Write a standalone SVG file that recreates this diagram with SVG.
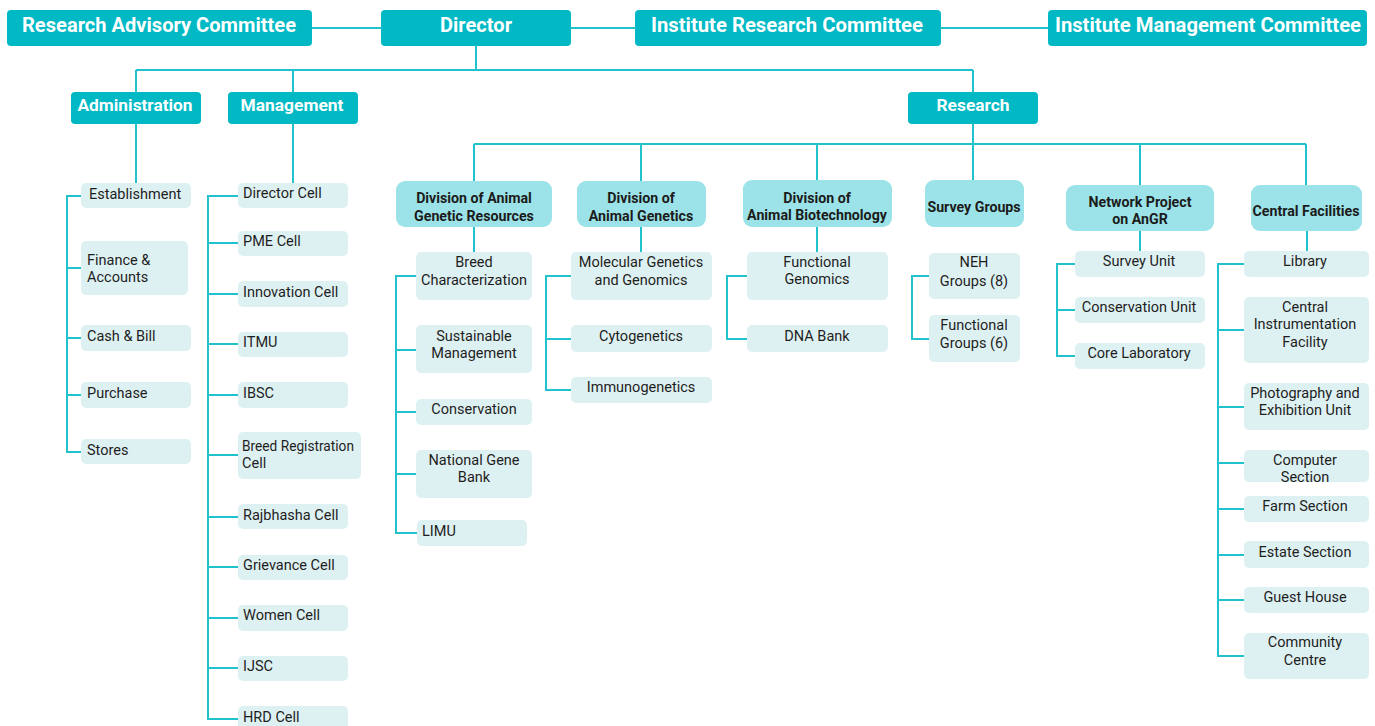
<svg xmlns="http://www.w3.org/2000/svg" width="1375" height="726" viewBox="0 0 1375 726">
<style>
.top{fill:#00b9c5}
.tt{font-family:Roboto,"Liberation Sans",sans-serif;font-weight:bold;fill:#fff;text-anchor:middle}
.div{fill:#9be3e8}
.dt{font-family:Roboto,"Liberation Sans",sans-serif;font-weight:bold;font-size:14.2px;fill:#1b1b1b;text-anchor:middle}
.leaf{fill:#def1f2}
.lt{font-family:Roboto,"Liberation Sans",sans-serif;font-size:14.5px;fill:#1e1e1e}
.c{text-anchor:middle}
.ln{fill:none;stroke:#20c2cd;stroke-width:2}
</style>
<rect width="1375" height="726" fill="#fff"/>
<g id="connectors" class="ln">
<path d="M312 28H381M571 28H635M941 28H1048"/>
<path d="M476 46V70M136 70H973M136 70V92M293 70V92M973 70V92"/>
<path d="M136 124V183M81 196H67V452H81M67 268H81M67 338H81M67 395H81"/>
<path d="M293 124V183M238 196H208V719H238M208 243H238M208 294H238M208 344H238M208 395H238M208 455H238M208 517H238M208 567H238M208 618H238M208 668H238"/>
<path d="M973 124V144M474 144H1306M474 144V181M641 144V181M817 144V180M973 144V180M1140 144V185M1306 144V185"/>
<path d="M474 227V252M416 276H396V533H417M396 350H416M396 412H416M396 474H416"/>
<path d="M641 227V252M571 276H546V390H571M546 339H571"/>
<path d="M817 227V252M747 276H727V339H747"/>
<path d="M929 276H912V339H929"/>
<path d="M1140 231V251M1075 264H1057V356H1075M1057 310H1075"/>
<path d="M1307 231V251M1244 264H1218V656H1244M1218 330H1244M1218 407H1244M1218 463H1244M1218 509H1244M1218 555H1244M1218 600H1244"/>
</g>
<g id="rac"><rect class="top" x="7" y="10" width="305" height="36" rx="4"/><text class="tt" x="159" y="32" font-size="21" textLength="274" lengthAdjust="spacingAndGlyphs">Research Advisory Committee</text></g>
<g id="director"><rect class="top" x="381" y="10" width="190" height="36" rx="4"/><text class="tt" x="476" y="32" font-size="21" textLength="72" lengthAdjust="spacingAndGlyphs">Director</text></g>
<g id="irc"><rect class="top" x="635" y="10" width="306" height="36" rx="4"/><text class="tt" x="787" y="32" font-size="21" textLength="272" lengthAdjust="spacingAndGlyphs">Institute Research Committee</text></g>
<g id="imc"><rect class="top" x="1048" y="10" width="319" height="36" rx="4"/><text class="tt" x="1208" y="32" font-size="21" textLength="306" lengthAdjust="spacingAndGlyphs">Institute Management Committee</text></g>
<g id="administration"><rect class="top" x="71" y="92" width="130" height="32" rx="4"/><text class="tt" x="135" y="111" font-size="17" textLength="115" lengthAdjust="spacingAndGlyphs">Administration</text></g>
<g id="management"><rect class="top" x="228" y="92" width="130" height="32" rx="4"/><text class="tt" x="292" y="111" font-size="17" textLength="103" lengthAdjust="spacingAndGlyphs">Management</text></g>
<g id="research"><rect class="top" x="908" y="92" width="130" height="32" rx="4"/><text class="tt" x="973" y="111" font-size="17" textLength="73" lengthAdjust="spacingAndGlyphs">Research</text></g>
<g id="establishment"><rect class="leaf" x="81" y="183" width="110" height="25" rx="5"/><text class="lt" x="89" y="199">Establishment</text></g>
<g id="finance"><rect class="leaf" x="81" y="241" width="107" height="54" rx="5"/><text class="lt" x="87" y="265">Finance &amp;</text><text class="lt" x="87" y="282">Accounts</text></g>
<g id="cash"><rect class="leaf" x="81" y="325" width="110" height="26" rx="5"/><text class="lt" x="87" y="341">Cash &amp; Bill</text></g>
<g id="purchase"><rect class="leaf" x="81" y="382" width="110" height="26" rx="5"/><text class="lt" x="87" y="398">Purchase</text></g>
<g id="stores"><rect class="leaf" x="81" y="439" width="110" height="25" rx="5"/><text class="lt" x="87" y="455">Stores</text></g>
<g id="directorcell"><rect class="leaf" x="238" y="183" width="110" height="25" rx="5"/><text class="lt" x="243" y="198">Director Cell</text></g>
<g id="pme"><rect class="leaf" x="238" y="231" width="110" height="25" rx="5"/><text class="lt" x="243" y="246">PME Cell</text></g>
<g id="innovation"><rect class="leaf" x="238" y="281" width="110" height="26" rx="5"/><text class="lt" x="243" y="297">Innovation Cell</text></g>
<g id="itmu"><rect class="leaf" x="238" y="332" width="110" height="25" rx="5"/><text class="lt" x="243" y="347">ITMU</text></g>
<g id="ibsc"><rect class="leaf" x="238" y="382" width="110" height="26" rx="5"/><text class="lt" x="243" y="398">IBSC</text></g>
<g id="breedreg"><rect class="leaf" x="238" y="432" width="123" height="47" rx="5"/><text class="lt" x="242" y="451" textLength="112" lengthAdjust="spacingAndGlyphs">Breed Registration</text><text class="lt" x="242" y="468">Cell</text></g>
<g id="rajbhasha"><rect class="leaf" x="238" y="504" width="110" height="25" rx="5"/><text class="lt" x="243" y="520">Rajbhasha Cell</text></g>
<g id="grievance"><rect class="leaf" x="238" y="555" width="110" height="25" rx="5"/><text class="lt" x="243" y="570">Grievance Cell</text></g>
<g id="women"><rect class="leaf" x="238" y="605" width="110" height="26" rx="5"/><text class="lt" x="243" y="620">Women Cell</text></g>
<g id="ijsc"><rect class="leaf" x="238" y="656" width="110" height="25" rx="5"/><text class="lt" x="243" y="671">IJSC</text></g>
<g id="hrd"><rect class="leaf" x="238" y="706" width="110" height="26" rx="5"/><text class="lt" x="243" y="722">HRD Cell</text></g>
<g id="dagr"><rect class="div" x="396" y="181" width="156" height="46" rx="9"/><text class="dt" x="474" y="203">Division of Animal</text><text class="dt" x="474" y="221">Genetic Resources</text></g>
<g id="dag"><rect class="div" x="577" y="181" width="129" height="46" rx="9"/><text class="dt" x="641" y="203">Division of</text><text class="dt" x="641" y="221">Animal Genetics</text></g>
<g id="dab"><rect class="div" x="743" y="180" width="149" height="47" rx="9"/><text class="dt" x="817" y="203">Division of</text><text class="dt" x="817" y="220">Animal Biotechnology</text></g>
<g id="survey"><rect class="div" x="925" y="180" width="99" height="47" rx="9"/><text class="dt" x="974" y="212">Survey Groups</text></g>
<g id="network"><rect class="div" x="1066" y="185" width="148" height="46" rx="9"/><text class="dt" x="1140" y="207">Network Project</text><text class="dt" x="1140" y="224">on AnGR</text></g>
<g id="central"><rect class="div" x="1251" y="185" width="111" height="46" rx="9"/><text class="dt" x="1306" y="216">Central Facilities</text></g>
<g id="breedchar"><rect class="leaf" x="416" y="252" width="116" height="48" rx="5"/><text class="lt c" x="474" y="267">Breed</text><text class="lt c" x="474" y="285">Characterization</text></g>
<g id="sustainable"><rect class="leaf" x="416" y="325" width="116" height="48" rx="5"/><text class="lt c" x="474" y="341">Sustainable</text><text class="lt c" x="474" y="358">Management</text></g>
<g id="conservation"><rect class="leaf" x="416" y="399" width="116" height="26" rx="5"/><text class="lt c" x="474" y="414">Conservation</text></g>
<g id="genebank"><rect class="leaf" x="416" y="450" width="116" height="48" rx="5"/><text class="lt c" x="474" y="465">National Gene</text><text class="lt c" x="474" y="482">Bank</text></g>
<g id="limu"><rect class="leaf" x="417" y="520" width="110" height="26" rx="5"/><text class="lt" x="422" y="536">LIMU</text></g>
<g id="molgen"><rect class="leaf" x="571" y="252" width="141" height="48" rx="5"/><text class="lt c" x="641" y="267">Molecular Genetics</text><text class="lt c" x="641" y="285">and Genomics</text></g>
<g id="cyto"><rect class="leaf" x="571" y="325" width="141" height="27" rx="5"/><text class="lt c" x="641" y="341">Cytogenetics</text></g>
<g id="immuno"><rect class="leaf" x="571" y="377" width="141" height="26" rx="5"/><text class="lt c" x="641" y="392">Immunogenetics</text></g>
<g id="fungen"><rect class="leaf" x="747" y="252" width="141" height="48" rx="5"/><text class="lt c" x="817" y="267">Functional</text><text class="lt c" x="817" y="284">Genomics</text></g>
<g id="dnabank"><rect class="leaf" x="747" y="325" width="141" height="27" rx="5"/><text class="lt c" x="817" y="341">DNA Bank</text></g>
<g id="neh"><rect class="leaf" x="929" y="253" width="91" height="46" rx="5"/><text class="lt c" x="974" y="267">NEH</text><text class="lt c" x="974" y="286">Groups (8)</text></g>
<g id="fungroups"><rect class="leaf" x="929" y="315" width="91" height="47" rx="5"/><text class="lt c" x="974" y="330">Functional</text><text class="lt c" x="974" y="348">Groups (6)</text></g>
<g id="surveyunit"><rect class="leaf" x="1075" y="251" width="130" height="26" rx="5"/><text class="lt c" x="1139" y="266">Survey Unit</text></g>
<g id="consunit"><rect class="leaf" x="1075" y="297" width="130" height="26" rx="5"/><text class="lt c" x="1139" y="312">Conservation Unit</text></g>
<g id="corelab"><rect class="leaf" x="1075" y="343" width="130" height="26" rx="5"/><text class="lt c" x="1139" y="358">Core Laboratory</text></g>
<g id="library"><rect class="leaf" x="1244" y="251" width="125" height="26" rx="5"/><text class="lt c" x="1305" y="266">Library</text></g>
<g id="cif"><rect class="leaf" x="1244" y="297" width="125" height="66" rx="5"/><text class="lt c" x="1305" y="312">Central</text><text class="lt c" x="1305" y="329">Instrumentation</text><text class="lt c" x="1305" y="347">Facility</text></g>
<g id="photo"><rect class="leaf" x="1244" y="383" width="125" height="47" rx="5"/><text class="lt c" x="1305" y="398">Photography and</text><text class="lt c" x="1305" y="415">Exhibition Unit</text></g>
<g id="computer"><rect class="leaf" x="1244" y="450" width="125" height="32" rx="5"/><text class="lt c" x="1305" y="465">Computer</text><text class="lt c" x="1305" y="482">Section</text></g>
<g id="farm"><rect class="leaf" x="1244" y="496" width="125" height="26" rx="5"/><text class="lt c" x="1305" y="511">Farm Section</text></g>
<g id="estate"><rect class="leaf" x="1244" y="541" width="125" height="27" rx="5"/><text class="lt c" x="1305" y="557">Estate Section</text></g>
<g id="guest"><rect class="leaf" x="1244" y="587" width="125" height="26" rx="5"/><text class="lt c" x="1305" y="602">Guest House</text></g>
<g id="community"><rect class="leaf" x="1244" y="633" width="125" height="46" rx="5"/><text class="lt c" x="1305" y="647">Community</text><text class="lt c" x="1305" y="665">Centre</text></g>
</svg>
